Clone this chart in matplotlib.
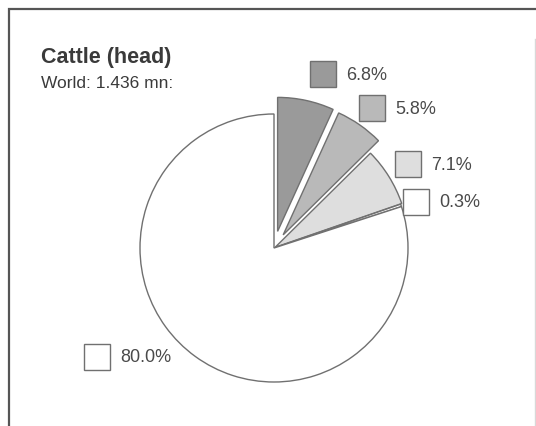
import matplotlib
matplotlib.use("Agg")
import matplotlib.pyplot as plt
from matplotlib.patches import Rectangle

plt.rcParams["font.family"] = ["Liberation Sans", "DejaVu Sans"]

# ── Data ────────────────────────────────────────────────────────────────────
shares = [6.8, 5.8, 7.1, 0.3, 80.0]
share_labels = ["6.8%", "5.8%", "7.1%", "0.3%", "80.0%"]
title = "Cattle (head)"
subtitle = "World: 1.436 mn:"

# ── Style ───────────────────────────────────────────────────────────────────
W, H = 536, 427
fills = ["#9a9a9a", "#b9b9b9", "#dedede", "#ffffff", "#ffffff"]
# pie explode offsets are in data units here (pixels)
explode = [17.0, 16.0, 1.3, 0.0, 0.0]
EDGE = "#707070"
TEXT = "#3a3a3a"

# legend key boxes: top-left corner in pixels (y measured downward)
key_pos = [(310, 62), (359, 96), (395, 152), (403, 190), (84, 345)]
KEY = 26

fig = plt.figure(figsize=(W / 100, H / 100), dpi=100)
ax = fig.add_axes([0, 0, 1, 1])


def py(y):
    """Pixel row (downward) to data y (upward)."""
    return H - y


# pie
ax.pie(shares, colors=fills, explode=explode, startangle=90,
       counterclock=False, center=(274, py(249)), radius=134,
       wedgeprops=dict(edgecolor=EDGE, linewidth=1.0), frame=True)
ax.set_xlim(0, W)
ax.set_ylim(0, H)
ax.set_aspect("equal")
ax.axis("off")

# frame
ax.plot([9, 9, W], [0, py(10), py(10)], color="#555555", lw=1.6,
        solid_capstyle="butt", solid_joinstyle="miter")
ax.plot([535, 535], [0, py(40)], color="#d8d8d8", lw=1.0)

# titles
ax.text(41, py(57), title, fontsize=15.5, fontweight="bold", color=TEXT,
        ha="left", va="center")
ax.text(41, py(84), subtitle, fontsize=12.5, color=TEXT,
        ha="left", va="center")

# key boxes and percentage labels
for (kx, ky), lab, col in zip(key_pos, share_labels, fills):
    ax.add_patch(Rectangle((kx, py(ky + KEY)), KEY, KEY, facecolor=col,
                           edgecolor=EDGE, linewidth=1.0))
    ax.text(kx + KEY + 10, py(ky + KEY / 2), lab, fontsize=13,
            color="#4a4a4a", ha="left", va="center")

fig.savefig("out.png", dpi=100, facecolor="white")
